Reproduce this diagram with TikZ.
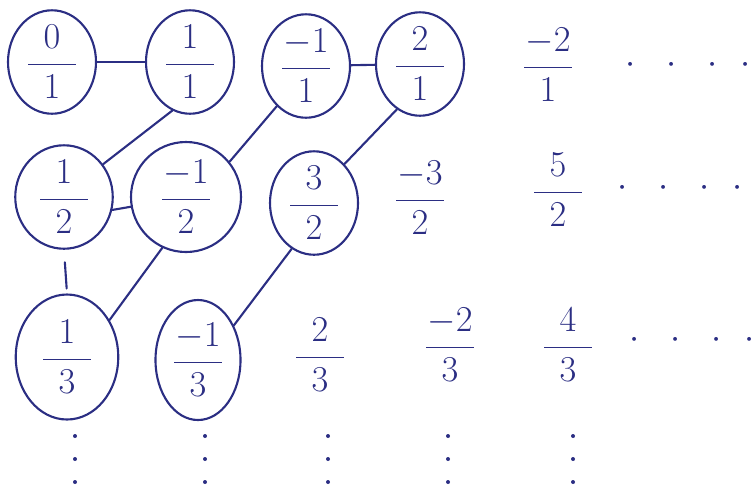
\documentclass[tikz,border=0pt]{standalone}
\usepackage{amsmath}
\usepackage{xcolor}
\usetikzlibrary{shapes.geometric}
\definecolor{inkblue}{HTML}{2B2E83}
\newcommand{\qfrac}[2]{$\dfrac{\makebox[1.3em]{$#1$}}{#2}$}

\begin{document}
\begin{tikzpicture}[x=0.2mm,y=-0.2mm,line width=1.2pt,
  every node/.style={text=inkblue,font=\fontsize{21}{25}\selectfont},
  circled/.style={draw=inkblue,ellipse,inner sep=0pt,minimum width=17.6mm,minimum height=19.2mm},
  link/.style={draw=inkblue,line cap=round}]
  \useasboundingbox (0,0) rectangle (755,495);

  % first row
  \node[circled] (n01) at (52,62) {\qfrac{0}{1}};
  \node[circled] (n11) at (190,62) {\qfrac{1}{1}};
  \node[circled] (nm11) at (306,66) {\qfrac{-1}{1}};
  \node[circled] (n21) at (420,64) {\qfrac{2}{1}};
  \node (nm21) at (548,65) {\qfrac{-2}{1}};
  \node (rdots1) at (688,65) {$\cdot\hspace{13pt}\cdot\hspace{13pt}\cdot\hspace{13pt}\cdot$};

  % second row
  \node[circled,minimum width=19.5mm,minimum height=20mm] (n12) at (64,197) {\qfrac{1}{2}};
  \node[circled,minimum width=22mm,minimum height=22mm] (nm12) at (186,197) {\qfrac{-1}{2}};
  \node[circled,minimum height=20mm] (n32) at (314,203) {\qfrac{3}{2}};
  \node (nm32) at (420,198) {\qfrac{-3}{2}};
  \node (n52) at (558,190) {\qfrac{5}{2}};
  \node (rdots2) at (680,188) {$\cdot\hspace{13pt}\cdot\hspace{13pt}\cdot\hspace{13pt}\cdot$};

  % third row
  \node[circled,minimum width=20.5mm,minimum height=25mm] (n13) at (67,357) {\qfrac{1}{3}};
  \node[circled,minimum width=17mm,minimum height=24mm] (nm13) at (198,360) {\qfrac{-1}{3}};
  \node (n23) at (320,355) {\qfrac{2}{3}};
  \node (nm23) at (450,345) {\qfrac{-2}{3}};
  \node (n43) at (568,345) {\qfrac{4}{3}};
  \node (rdots3) at (692,340) {$\cdot\hspace{13pt}\cdot\hspace{13pt}\cdot\hspace{13pt}\cdot$};

  % columns go on
  \foreach \x in {75,205,328,448,573}
    \foreach \y in {436,459,482}
      \fill[inkblue] (\x,\y) circle[radius=2];

  % the zigzag
  \draw[link] (n01) -- (n11);
  \draw[link] (n11.250) -- (n12.40);
  \draw[link] (n12.345) -- (nm12.190);
  \draw[link,shorten <=2.5mm,shorten >=1mm] (n12.south) -- (n13.north);
  \draw[link] (nm12.245) -- (n13.41);
  \draw[link] (n32.244) -- (nm13.44);
  \draw[link] (n21.243) -- (n32.52);
  \draw[link] (nm11.234) -- (nm12.39);
  \draw[link] (nm11) -- (n21);
\end{tikzpicture}
\end{document}
